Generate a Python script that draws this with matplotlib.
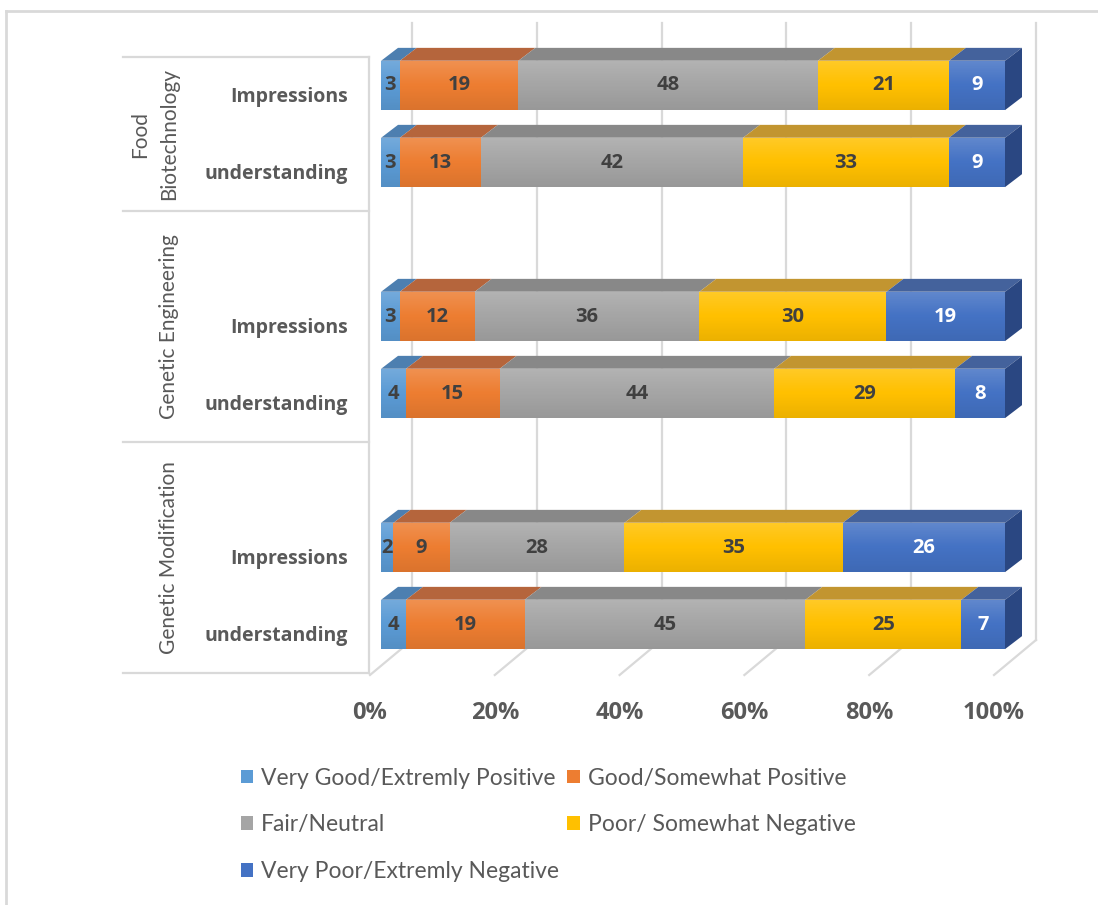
import numpy as np
import matplotlib.pyplot as plt
from matplotlib.patches import Polygon
from matplotlib.lines import Line2D

plt.rcParams['font.family'] = ['Lato', 'DejaVu Sans']
BOLD = ['Open Sans', 'DejaVu Sans']

groups = ['Food\nBiotechnology', 'Genetic Engineering', 'Genetic Modification']
rows = ['Impressions', 'understanding'] * 3
series = ['Very Good/Extremly Positive', 'Good/Somewhat Positive', 'Fair/Neutral',
          'Poor/ Somewhat Negative', 'Very Poor/Extremly Negative']
very_good = [3, 3, 3, 4, 2, 4]
good = [19, 13, 12, 15, 9, 19]
fair = [48, 42, 36, 44, 28, 45]
poor = [21, 33, 30, 29, 35, 25]
very_poor = [9, 9, 19, 8, 26, 7]

# slot of each bar (top to bottom); an empty slot heads the lower two groups
slots = np.array([0, 1, 3, 4, 6, 7])
group_spans = [(0, 1), (2, 4), (5, 7)]

front = ['#5B9BD5', '#ED7D31', '#A5A5A5', '#FFC000', '#4472C4']
topc = ['#4D7FB0', '#B5653C', '#888888', '#C29530', '#44629C']
side = '#2A4782'
txt = ['#404040', '#404040', '#404040', '#404040', 'white']
grey = '#595959'
line = '#D9D9D9'

# layout, in pixels of the 1098x905 picture
X0, XS, Y0, YS = 381, 6.24, 85.5, 77
DX, DY = 17 / XS, 13 / YS          # bar depth
WX = 31 / XS                       # back wall shift
H = 0.64

fig = plt.figure(figsize=(10.98, 9.05), dpi=100)
ax = fig.add_axes([0, 0, 1, 1])
ax.axis('off')

def px(x=None, y=None):
    if y is None:
        return (x - X0) / XS
    return (y - Y0) / YS

# back wall grid and floor
wall_top, wall_bot = px(y=23), px(y=640)
floor_front = px(y=675)
fx = px(370)
for p in range(0, 101, 20):
    ax.plot([p + WX, p + WX], [wall_top, wall_bot], color=line, lw=1.6, zorder=1)
    ax.plot([p + fx, p + WX], [floor_front, wall_bot], color=line, lw=1.6, zorder=1)
    ax.text(p + fx, px(y=713), f'{p}%', ha='center', va='center', family=BOLD,
            fontsize=17, fontweight='bold', color=grey)

# stacked 3D bars
data = np.array([very_good, good, fair, poor, very_poor])
left = np.zeros(len(slots))
handles = []
for i, vals in enumerate(data):
    bc = ax.barh(slots, vals, left=left, height=H, color=front[i], zorder=3,
                 label=series[i])
    handles.append(bc)
    for s, l, w in zip(slots, left, vals):
        top = s - H / 2
        ax.add_patch(Polygon([(l, top), (l + w, top), (l + w + DX, top - DY), (l + DX, top - DY)],
                             closed=True, facecolor=topc[i], edgecolor='none', zorder=2.9))
        ax.text(l + w / 2, s, str(w), ha='center', va='center', fontsize=14.5, family=BOLD,
                fontweight='bold', color=txt[i], zorder=5)
    left += vals

# soft shading on the front faces, light at the top and darker at the bottom
n = 60
t = np.linspace(0, 1, n)
shade = np.zeros((n, 1, 4))
shade[t < 0.5, 0, :3] = 1.0
shade[:, 0, 3] = np.where(t < 0.5, 0.16 * (1 - t / 0.5), 0.08 * (t - 0.5) / 0.5)
for s, r in zip(slots, left):
    top, bot = s - H / 2, s + H / 2
    ax.imshow(shade, extent=(0, r, bot, top), aspect='auto', zorder=3.5,
              interpolation='bilinear')
    ax.add_patch(Polygon([(r, top), (r, bot), (r + DX, bot - DY), (r + DX, top - DY)],
                         closed=True, facecolor=side, edgecolor='none', zorder=2.9))

# category axis with group boxes
ax_x = px(369)
box_left = px(123)
edges = [s0 - 0.5 + 0.13 for s0, _ in group_spans] + [group_spans[-1][1] + 0.5 + 0.13]
ax.plot([ax_x, ax_x], [edges[0], edges[-1]], color=line, lw=1.6, zorder=1)
for e in edges:
    ax.plot([box_left, ax_x], [e, e], color=line, lw=1.6, zorder=1)
for g, name in enumerate(groups):
    ax.text(px(179), (edges[g] + edges[g + 1]) / 2, name, rotation=90, ha='right',
            va='center', fontsize=15, color=grey, multialignment='center',
            linespacing=1.55)
for s, r in zip(slots, rows):
    ax.text(px(348), s + 0.15, r, ha='right', va='center', fontsize=14, family=BOLD,
            fontweight='bold', color=grey)

ax.set_xlim(-X0 / XS, (1098 - X0) / XS)
ax.set_ylim((905 - Y0) / YS, -Y0 / YS)

# outer frame (left and top edges visible)
fig.add_artist(Line2D([6 / 1098, 6 / 1098], [0, 1 - 11 / 905], color=line, lw=2))
fig.add_artist(Line2D([6 / 1098, 1], [1 - 11 / 905, 1 - 11 / 905], color=line, lw=2))

order = [0, 2, 4, 1, 3]
leg = fig.legend([handles[k] for k in order], [series[k] for k in order], ncol=2,
                 loc='upper left', bbox_to_anchor=(220 / 1098, 1 - 747 / 905),
                 frameon=False, fontsize=16.5, handlelength=0.55, handleheight=0.55,
                 handletextpad=0.35, columnspacing=0.35, labelspacing=1.12)
for t in leg.get_texts():
    t.set_color(grey)

fig.savefig('out.png', dpi=100)
